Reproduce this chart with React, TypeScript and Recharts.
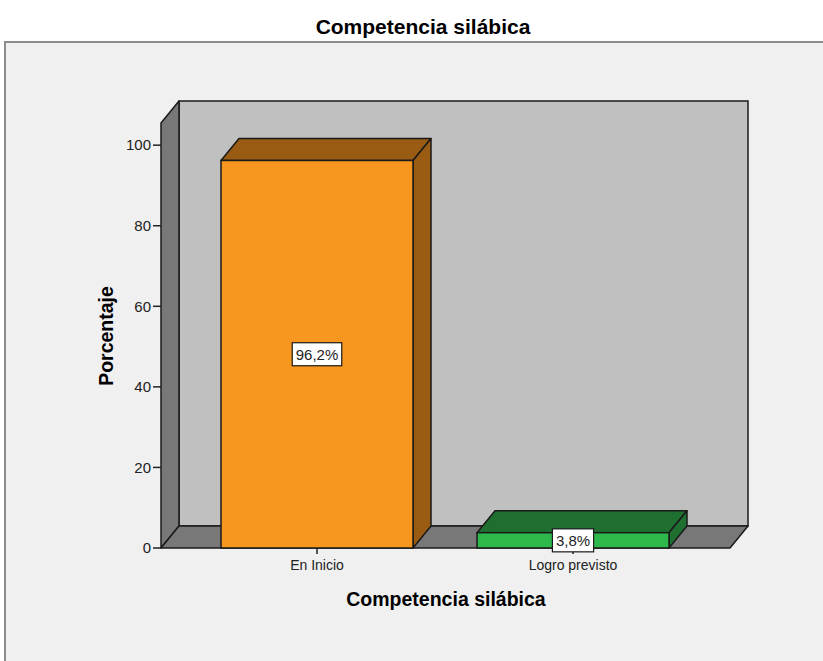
import { BarChart, Bar, XAxis, YAxis, ReferenceArea, LabelList } from 'recharts';

const categories = ['En Inicio', 'Logro previsto'];
const percentages = [96.2, 3.8];
const yTicks = [0, 20, 40, 60, 80, 100];
const faceColors = ['#f7971f', '#2eb84b'];
const darkColors = ['#9a5b12', '#1f6f31'];

const data = categories.map((name, i) => ({ name, value: percentages[i] }));

const W = 823;
const H = 661;
// front plane of the plot (pixels)
const LEFT = 161;
const RIGHT = 730;
const TOP = 123;
const BOTTOM = 548;
// 3D depth offset
const DX = 18;
const DY = 22;
const Y_MAX = 105.5;
const FONT = '"Liberation Sans", Arial, sans-serif';
const EDGE = '#1a1a1a';

const pts = (arr: number[][]) => arr.map((p) => p.join(',')).join(' ');

// back wall, left wall and floor
const Walls = (props: any) => {
  const top = props.y;
  const bottom = props.y + props.height;
  return (
    <g>
      <rect x={LEFT + DX} y={top - DY} width={RIGHT - LEFT} height={bottom - top} fill="#c0c0c0" stroke={EDGE} strokeWidth={1.5} />
      <polygon points={pts([[LEFT, top], [LEFT + DX, top - DY], [LEFT + DX, bottom - DY], [LEFT, bottom]])} fill="#787878" stroke={EDGE} strokeWidth={1.5} strokeLinejoin="round" />
      <polygon points={pts([[LEFT, bottom], [LEFT + DX, bottom - DY], [RIGHT + DX, bottom - DY], [RIGHT, bottom]])} fill="#787878" stroke={EDGE} strokeWidth={1.5} strokeLinejoin="round" />
    </g>
  );
};

const Bar3D = (props: any) => {
  const { x, y, width, height, index } = props;
  if (!width || height == null) return null;
  const face = faceColors[index % faceColors.length];
  const dark = darkColors[index % darkColors.length];
  return (
    <g>
      <polygon points={pts([[x, y], [x + DX, y - DY], [x + width + DX, y - DY], [x + width, y]])} fill={dark} stroke={EDGE} strokeWidth={1.5} strokeLinejoin="round" />
      <polygon points={pts([[x + width, y], [x + width + DX, y - DY], [x + width + DX, y + height - DY], [x + width, y + height]])} fill={dark} stroke={EDGE} strokeWidth={1.5} strokeLinejoin="round" />
      <rect x={x} y={y} width={width} height={height} fill={face} stroke={EDGE} strokeWidth={1.5} />
    </g>
  );
};

const charW: Record<string, number> = { ',': 0.278, '%': 0.889 };

const ValueBox = (props: any) => {
  const { x, y, width, height, value } = props;
  const text = `${Number(value).toFixed(1).replace('.', ',')}%`;
  const fs = 15;
  const tw = text.split('').reduce((s, c) => s + (charW[c] ?? 0.556), 0) * fs;
  const bw = tw + 7;
  const bh = 23;
  const cx = x + width / 2;
  const cy = y + height / 2;
  return (
    <g>
      <rect x={cx - bw / 2} y={cy - bh / 2} width={bw} height={bh} fill="#ffffff" stroke={EDGE} strokeWidth={1.2} />
      <text x={cx} y={cy + 5.5} textAnchor="middle" fontFamily={FONT} fontSize={fs} fill="#222">
        {text}
      </text>
    </g>
  );
};

export default function App() {
  return (
    <div style={{ position: 'absolute', left: 0, top: 0, width: W, height: H, background: '#ffffff', overflow: 'hidden' }}>
      <svg width={W} height={H} style={{ position: 'absolute', left: 0, top: 0 }}>
        <rect x={5} y={42} width={840} height={640} fill="#f0f0f0" stroke="#8c8c8c" strokeWidth={2} />
        <text x={423} y={34} textAnchor="middle" fontFamily={FONT} fontWeight="bold" fontSize={21} fill="#000">
          Competencia silábica
        </text>
        <text x={446} y={606} textAnchor="middle" fontFamily={FONT} fontWeight="bold" fontSize={19.5} fill="#000">
          Competencia silábica
        </text>
        <text x={113} y={336} textAnchor="middle" transform="rotate(-90 113 336)" fontFamily={FONT} fontWeight="bold" fontSize={19.5} fill="#000">
          Porcentaje
        </text>
      </svg>
      <div style={{ position: 'absolute', left: 0, top: 0 }}>
        <BarChart
          width={W}
          height={H}
          data={data}
          margin={{ top: TOP, right: W - RIGHT, bottom: H - BOTTOM - 30, left: LEFT - 60 }}
        >
          <ReferenceArea y1={0} y2={Y_MAX} ifOverflow="visible" shape={Walls} zIndex={-200} />
          <XAxis
            dataKey="name"
            height={30}
            padding={{ left: 28, right: 29 }}
            axisLine={false}
            tickSize={6}
            tickMargin={6}
            tickLine={{ stroke: '#222', strokeWidth: 1.5 }}
            tick={{ fill: '#222', fontSize: 14, fontFamily: FONT }}
          />
          <YAxis
            width={60}
            domain={[0, Y_MAX]}
            ticks={yTicks}
            axisLine={false}
            tickSize={8}
            tickLine={{ stroke: '#222', strokeWidth: 1.5 }}
            tick={{ fill: '#222', fontSize: 15, fontFamily: FONT }}
          />
          <Bar dataKey="value" barSize={192} shape={Bar3D} isAnimationActive={false}>
            <LabelList dataKey="value" content={ValueBox} />
          </Bar>
        </BarChart>
      </div>
    </div>
  );
}
